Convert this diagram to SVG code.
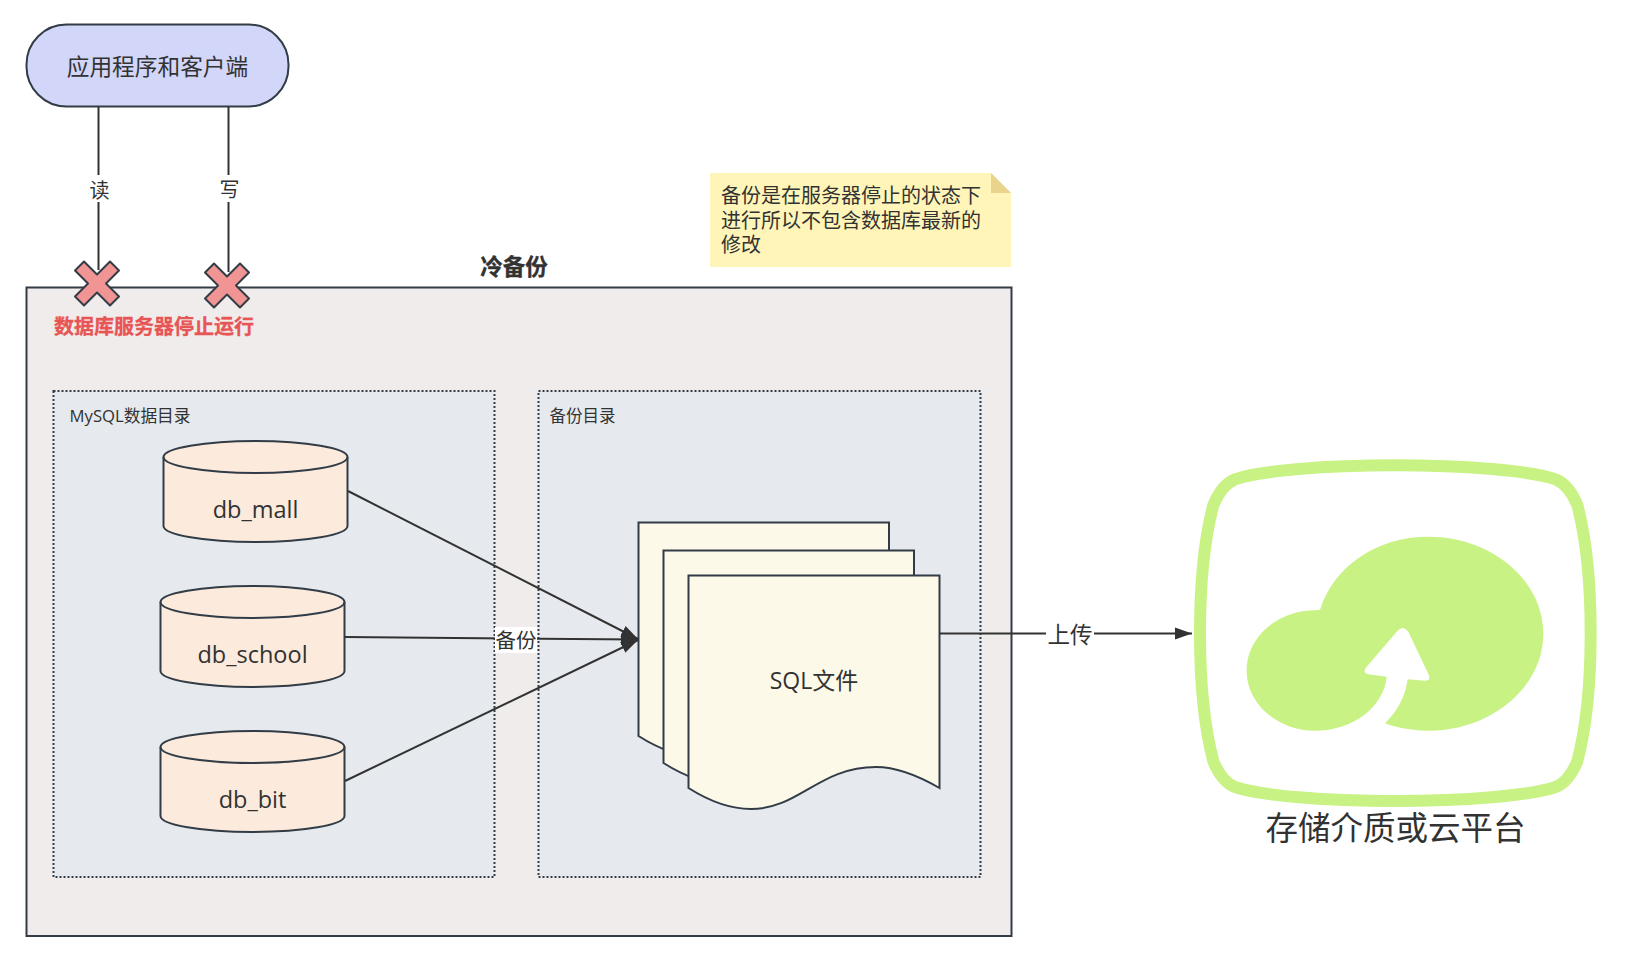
<svg xmlns="http://www.w3.org/2000/svg" width="1625" height="967" viewBox="0 0 1625 967">
<defs>
<style>
text{font-family:"Open Sans","Noto Sans CJK SC",sans-serif;fill:#323232;text-anchor:middle}
.cjk{font-family:"Noto Sans CJK SC",sans-serif}
.s{stroke:#323c46;stroke-width:2}
.cyl{fill:#fceadc}
.doc{fill:#fdf9e9}
.box{fill:#e6eaee;stroke:#323c46;stroke-width:2;stroke-dasharray:2 2}
.x{fill:#f09494;stroke:#323c46;stroke-width:2;stroke-linejoin:round}
.c{fill:none;stroke:#323232;stroke-width:2}
.lb{fill:#fff}
</style>
<marker id="head" markerUnits="userSpaceOnUse" markerWidth="18" markerHeight="14" refX="17" refY="7" orient="auto"><path d="M0 1 L17 7 L0 13 Z" fill="#323232"/></marker>
<path id="xs" d="M-22 -13 L-13 -22 L0 -9 L13 -22 L22 -13 L9 0 L22 13 L13 22 L0 9 L-13 22 L-22 13 L-9 0 Z"/>
</defs>
<rect width="1625" height="967" fill="#fff"/>
<g id="frame">
<rect x="26.500" y="287.500" width="985" height="648.500" fill="#f0ecec" class="s"/>
<text x="514" y="275" font-size="22.500" font-weight="700" class="cjk" stroke="#323232" stroke-width=".3">冷备份</text>
</g>
<g id="dir-mysql">
<rect x="53.500" y="391" width="441" height="486" class="box"/>
<text x="130" y="422" font-size="16.700">MySQL数据目录</text>
</g>
<g id="dir-backup">
<rect x="538.500" y="391" width="442" height="486" class="box"/>
<text x="582.500" y="422" font-size="16.500">备份目录</text>
</g>
<g id="app">
<rect x="26.500" y="24.500" width="262" height="82" rx="40" ry="40" fill="#d2d6f9" class="s"/>
<text x="157.500" y="74.500" font-size="22.700">应用程序和客户端</text>
</g>
<g id="db-mall">
<path d="M163.500 457 A92 16 0 0 1 347.500 457 V526 A92 16 0 0 1 163.500 526 Z" class="cyl s"/>
<path d="M163.500 457 A92 16 0 0 0 347.500 457" fill="none" class="s"/>
<text x="255.500" y="518" font-size="23.500">db_mall</text>
</g>
<g id="db-school">
<path d="M160.500 602 A92 16 0 0 1 344.500 602 V671 A92 16 0 0 1 160.500 671 Z" class="cyl s"/>
<path d="M160.500 602 A92 16 0 0 0 344.500 602" fill="none" class="s"/>
<text x="252.500" y="663" font-size="23.500">db_school</text>
</g>
<g id="db-bit">
<path d="M160.500 747 A92 16 0 0 1 344.500 747 V816 A92 16 0 0 1 160.500 816 Z" class="cyl s"/>
<path d="M160.500 747 A92 16 0 0 0 344.500 747" fill="none" class="s"/>
<text x="252.500" y="808" font-size="23.500">db_bit</text>
</g>
<g id="sql-files">
<path d="M638.500 522.500 H889 V734 C867 721 847 713 826 713 C769 713 749 757 701 757 C679 757 659 749 638.500 736 Z" class="doc s"/>
<path d="M663.500 550.500 H914 V761 C892 748 872 740 851 740 C794 740 774 784 726 784 C704 784 684 776 663.500 763 Z" class="doc s"/>
<path d="M688.500 575.500 H939.500 V788 C917 775 897 767 876 767 C819 767 799 809 751 809 C729 809 709 801 688.500 788 Z" class="doc s"/>
<text x="814" y="689" font-size="23">SQL文件</text>
</g>
<g id="note">
<path d="M710 173 H991 L1011 193 V267 H710 Z" fill="#fff5b9"/>
<path d="M991 173 L1011 193 H991 Z" fill="#e8d48d"/>
<text x="721" y="203" font-size="20" style="text-anchor:start">备份是在服务器停止的状态下</text>
<text x="721" y="228" font-size="20" style="text-anchor:start">进行所以不包含数据库最新的</text>
<text x="721" y="252" font-size="20" style="text-anchor:start">修改</text>
</g>
<g id="storage">
<g transform="translate(1180 450) scale(.33333)">
<path d="M645 46 C850 46 1052 62 1127 88 C1152 98 1174 122 1192 165 C1217 260 1232 400 1232 550 C1232 700 1217 839 1192 934 C1174 977 1152 1001 1127 1011 C1052 1037 850 1053 645 1053 C440 1053 240 1037 165 1011 C140 1001 118 977 100 934 C75 839 60 700 60 550 C60 400 75 260 100 165 C118 122 140 98 165 88 C240 62 440 46 645 46 Z" fill="#fff" stroke="#c9f285" stroke-width="36"/>
<path d="M420 480 C460 350 590 260 745 260 C935 260 1090 390 1090 552 C1090 710 935 842 745 842 C700 842 655 835 615 820 C650 785 675 745 683 688 L735 692 Q755 692 745 672 L685 545 Q670 525 653 542 L560 650 Q545 668 565 673 L620 680 C612 770 520 842 405 842 C292 842 200 760 200 662 C200 562 292 481 405 481 Z" fill="#c9f285"/>
</g>
<text x="1395.500" y="840" font-size="32.500">存储介质或云平台</text>
</g>
<g id="connectors">
<path class="c" d="M98.500 107 V270"/>
<path class="c" d="M228.500 107 V272"/>
<path class="c" d="M348 491 L638 639" marker-end="url(#head)"/>
<path class="c" d="M345 637 L638 639.500" marker-end="url(#head)"/>
<path class="c" d="M345 781 L638 640" marker-end="url(#head)"/>
<path class="c" d="M939.500 633.500 H1192" marker-end="url(#head)"/>
<rect class="lb" x="88" y="175" width="23" height="27"/>
<text x="99.500" y="198" font-size="20">读</text>
<rect class="lb" x="218" y="175" width="23" height="27"/>
<text x="229.500" y="197" font-size="20">写</text>
<rect class="lb" x="495" y="627" width="42" height="26"/>
<text x="516" y="648" font-size="20.500">备份</text>
<rect class="lb" x="1046" y="620" width="48" height="28"/>
<text x="1070" y="642.500" font-size="22.500">上传</text>
</g>
<g id="stop-read"><use href="#xs" x="97" y="283.500" class="x"/></g>
<g id="stop-write"><use href="#xs" x="227" y="285.500" class="x"/></g>
<g id="stop-label"><text x="154" y="334" font-size="20" font-weight="700" class="cjk" style="fill:#e85555" stroke="#e85555" stroke-width=".3">数据库服务器停止运行</text></g>
</svg>
